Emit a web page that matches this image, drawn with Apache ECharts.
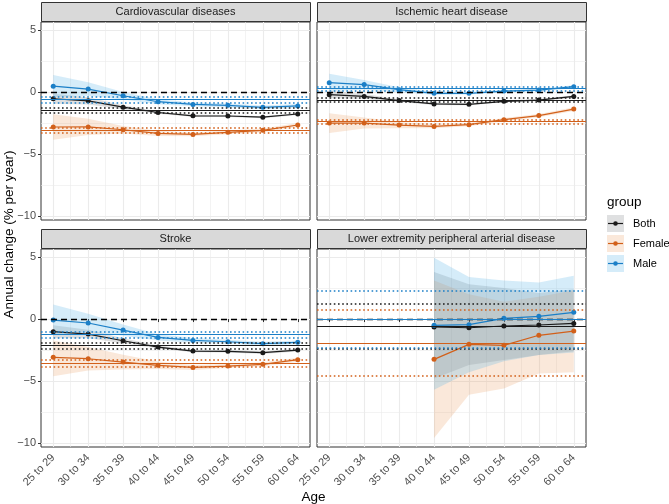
<!DOCTYPE html>
<html>
<head>
<meta charset="utf-8">
<script src="https://cdn.jsdelivr.net/npm/echarts@6/dist/echarts.min.js"></script>
<style>html,body{margin:0;padding:0;background:#fff}#c{width:669px;height:504px}</style>
</head>
<body>
<div id="c"></div>
<script>
// ---------- data ----------
const ages = ['25 to 29','30 to 34','35 to 39','40 to 44','45 to 49','50 to 54','55 to 59','60 to 64'];
const panelTitles = ['Cardiovascular diseases','Ischemic heart disease','Stroke','Lower extremity peripheral arterial disease'];
const groups = ['Both','Female','Male'];
const yTicks = [-10,-5,0,5];
const yMinorTicks = [-7.5,-2.5,2.5];

// Cardiovascular diseases
const cvdBoth     = [-0.54,-0.71,-1.22,-1.65,-1.92,-1.93,-2.03,-1.77];
const cvdBothLo   = [-0.95,-1.00,-1.38,-1.76,-2.00,-2.01,-2.11,-1.86];
const cvdBothHi   = [-0.14,-0.42,-1.06,-1.54,-1.84,-1.85,-1.95,-1.68];
const cvdFemale   = [-2.82,-2.81,-3.04,-3.34,-3.42,-3.25,-3.09,-2.66];
const cvdFemaleLo = [-3.85,-3.47,-3.35,-3.55,-3.57,-3.40,-3.24,-2.82];
const cvdFemaleHi = [-1.80,-2.15,-2.73,-3.13,-3.27,-3.10,-2.94,-2.50];
const cvdMale     = [0.47,0.24,-0.30,-0.78,-1.00,-1.07,-1.23,-1.12];
const cvdMaleLo   = [-0.40,-0.30,-0.60,-0.98,-1.15,-1.22,-1.38,-1.28];
const cvdMaleHi   = [1.37,0.80,0.00,-0.58,-0.85,-0.92,-1.08,-0.96];
// overall annual change [estimate, lower, upper]
const cvdAllBoth = [-1.50,-1.69,-1.29];
const cvdAllFemale = [-3.09,-3.29,-2.87];
const cvdAllMale = [-0.62,-0.85,-0.39];

// Ischemic heart disease
const ihdBoth     = [-0.21,-0.35,-0.69,-0.96,-0.99,-0.75,-0.65,-0.35];
const ihdBothLo   = [-0.50,-0.55,-0.80,-1.05,-1.07,-0.83,-0.73,-0.45];
const ihdBothHi   = [0.08,-0.15,-0.58,-0.87,-0.91,-0.67,-0.57,-0.25];
const ihdFemale   = [-2.50,-2.50,-2.66,-2.77,-2.63,-2.23,-1.90,-1.37];
const ihdFemaleLo = [-3.30,-2.95,-2.91,-2.92,-2.76,-2.36,-2.03,-1.52];
const ihdFemaleHi = [-1.70,-2.05,-2.41,-2.62,-2.50,-2.10,-1.77,-1.22];
const ihdMale     = [0.76,0.60,0.19,-0.10,-0.10,0.08,0.16,0.43];
const ihdMaleLo   = [0.06,0.20,-0.01,-0.22,-0.20,-0.02,0.06,0.31];
const ihdMaleHi   = [1.48,0.98,0.39,0.02,0.00,0.18,0.26,0.55];
const ihdAllBoth = [-0.64,-0.80,-0.48];
const ihdAllFemale = [-2.37,-2.53,-2.23];
const ihdAllMale = [0.27,0.14,0.42];

// Stroke
const strBoth     = [-1.02,-1.21,-1.75,-2.26,-2.58,-2.60,-2.71,-2.50];
const strBothLo   = [-1.55,-1.55,-1.95,-2.38,-2.68,-2.70,-2.81,-2.61];
const strBothHi   = [-0.50,-0.87,-1.55,-2.14,-2.48,-2.50,-2.61,-2.39];
const strFemale   = [-3.09,-3.20,-3.47,-3.73,-3.90,-3.79,-3.65,-3.28];
const strFemaleLo = [-4.62,-4.15,-4.07,-4.03,-4.10,-3.95,-3.81,-3.44];
const strFemaleHi = [-1.72,-2.25,-2.87,-3.43,-3.70,-3.63,-3.49,-3.12];
const strMale     = [-0.08,-0.32,-0.89,-1.48,-1.72,-1.83,-1.99,-1.88];
const strMaleLo   = [-1.30,-1.07,-1.34,-1.73,-1.92,-1.99,-2.14,-2.04];
const strMaleHi   = [1.18,0.43,-0.44,-1.23,-1.52,-1.67,-1.84,-1.72];
const strAllBoth = [-2.12,-2.36,-1.91];
const strAllFemale = [-3.55,-3.81,-3.30];
const strAllMale = [-1.26,-1.48,-1.05];

// Lower extremity peripheral arterial disease
const padBoth     = [null,null,null,-0.64,-0.70,-0.56,-0.48,-0.35];
const padBothLo   = [null,null,null,-4.80,-3.70,-3.30,-2.90,-2.60];
const padBothHi   = [null,null,null,3.80,2.80,2.50,2.10,2.40];
const padFemale   = [null,null,null,-3.25,-2.04,-2.12,-1.31,-0.97];
const padFemaleLo = [null,null,null,-9.60,-6.10,-5.60,-4.40,-4.30];
const padFemaleHi = [null,null,null,3.10,2.00,1.40,1.80,2.30];
const padMale     = [null,null,null,-0.51,-0.45,0.06,0.22,0.54];
const padMaleLo   = [null,null,null,-5.70,-4.30,-3.40,-2.90,-2.70];
const padMaleHi   = [null,null,null,4.95,3.40,3.10,2.95,3.50];
const padAllBoth = [-0.59,-2.39,1.21];
const padAllFemale = [-1.96,-4.54,0.73];
const padAllMale = [-0.05,-2.35,2.29];

// ---------- build ----------
const panels = [
  {mean:[cvdBoth,cvdFemale,cvdMale], lo:[cvdBothLo,cvdFemaleLo,cvdMaleLo], hi:[cvdBothHi,cvdFemaleHi,cvdMaleHi], all:[cvdAllBoth,cvdAllFemale,cvdAllMale]},
  {mean:[ihdBoth,ihdFemale,ihdMale], lo:[ihdBothLo,ihdFemaleLo,ihdMaleLo], hi:[ihdBothHi,ihdFemaleHi,ihdMaleHi], all:[ihdAllBoth,ihdAllFemale,ihdAllMale]},
  {mean:[strBoth,strFemale,strMale], lo:[strBothLo,strFemaleLo,strMaleLo], hi:[strBothHi,strFemaleHi,strMaleHi], all:[strAllBoth,strAllFemale,strAllMale]},
  {mean:[padBoth,padFemale,padMale], lo:[padBothLo,padFemaleLo,padMaleLo], hi:[padBothHi,padFemaleHi,padMaleHi], all:[padAllBoth,padAllFemale,padAllMale]}
];

const lineColors = ['#1a1a1a','#D2601A','#1B7FC7'];
const ribbonColors = ['rgba(55,65,70,0.16)','rgba(232,140,70,0.2)','rgba(86,180,233,0.25)'];
const FONT = 'Liberation Sans, Arial, sans-serif';

const gridPos = [
  {left:41, top:22, width:269, height:198},
  {left:317, top:22, width:269, height:198},
  {left:41, top:249, width:269, height:198},
  {left:317, top:249, width:269, height:198}
];
const X_MIN = 0.65, X_MAX = 8.35, Y_MIN = -10.32, Y_MAX = 5.65;
const xMajor = ages.map((a,i)=>i+1);
const xMinor = ages.slice(1).map((a,i)=>i+1.5);

const grids = [], xAxes = [], yAxes = [], series = [], graphics = [];

panels.forEach((p, k) => {
  const bottom = k >= 2, left = k % 2 === 0;
  grids.push(Object.assign({show:true, borderColor:'#333333', borderWidth:1, backgroundColor:'#ffffff', containLabel:false}, gridPos[k]));
  xAxes.push({type:'value', gridIndex:k, min:X_MIN, max:X_MAX,
    axisLine:{show:false},
    axisTick:{show:bottom, customValues:xMajor, length:3, lineStyle:{color:'#333333', width:1}},
    axisLabel:{show:bottom, customValues:xMajor, rotate:45, margin:9, fontSize:11, color:'#4D4D4D', fontFamily:FONT,
      formatter:v=>ages[Math.round(v)-1]},
    splitLine:{show:true, lineStyle:{color:'#EBEBEB', width:1.1}}
  });
  xAxes.push({type:'value', gridIndex:k, min:X_MIN, max:X_MAX, show:true,
    axisLine:{show:false}, axisTick:{show:false, customValues:xMinor}, axisLabel:{show:false, customValues:xMinor},
    splitLine:{show:true, lineStyle:{color:'#EBEBEB', width:0.6}}
  });
  yAxes.push({type:'value', gridIndex:k, min:Y_MIN, max:Y_MAX,
    axisLine:{show:false},
    axisTick:{show:left, customValues:yTicks, length:3, lineStyle:{color:'#333333', width:1}},
    axisLabel:{show:left, customValues:yTicks, margin:5, fontSize:11, color:'#4D4D4D', fontFamily:FONT,
      formatter:v=>String(v).replace('-','\u2212')},
    splitLine:{show:true, lineStyle:{color:'#EBEBEB', width:1.1}}
  });
  yAxes.push({type:'value', gridIndex:k, min:Y_MIN, max:Y_MAX, show:true,
    axisLine:{show:false}, axisTick:{show:false, customValues:yMinorTicks}, axisLabel:{show:false, customValues:yMinorTicks},
    splitLine:{show:true, lineStyle:{color:'#EBEBEB', width:0.6}}
  });

  // ribbons
  groups.forEach((g, gi) => {
    const lo = p.lo[gi], hi = p.hi[gi];
    series.push({type:'custom', name:g, xAxisIndex:2*k, yAxisIndex:2*k, z:2, silent:true,
      data:[[1,0]],
      renderItem:(params, api) => {
        const pts = [];
        for (let i=0;i<lo.length;i++) if (lo[i]!=null) pts.push(api.coord([i+1, hi[i]]));
        for (let i=lo.length-1;i>=0;i--) if (lo[i]!=null) pts.push(api.coord([i+1, lo[i]]));
        return {type:'polygon', shape:{points:pts}, style:{fill:ribbonColors[gi]}};
      }
    });
  });
  // zero dashed line
  series.push({type:'line', xAxisIndex:2*k, yAxisIndex:2*k, data:[], z:3, silent:true,
    markLine:{silent:true, symbol:'none', label:{show:false}, animation:false,
      data:[{yAxis:0, lineStyle:{color:'#000000', width:1.3, type:[6,4]}}]}
  });
  // group lines + overall hlines
  groups.forEach((g, gi) => {
    const m = p.mean[gi], a = p.all[gi];
    series.push({type:'line', name:g, xAxisIndex:2*k, yAxisIndex:2*k, z:4,
      data:m.map((v,i)=>v==null?null:[i+1, v]).filter(d=>d),
      symbol:'circle', symbolSize:5, showSymbol:true,
      lineStyle:{color:lineColors[gi], width:1.2}, itemStyle:{color:lineColors[gi]},
      markLine:{silent:true, symbol:'none', label:{show:false}, animation:false,
        data:[
          {yAxis:a[0], lineStyle:{color:lineColors[gi], width:1.2, type:'solid'}},
          {yAxis:a[1], lineStyle:{color:lineColors[gi], width:1.7, type:[1.6,2.6]}},
          {yAxis:a[2], lineStyle:{color:lineColors[gi], width:1.7, type:[1.6,2.6]}}
        ]}
    });
  });

  // strip
  const gp = gridPos[k];
  graphics.push({type:'rect', shape:{x:gp.left+0.5, y:gp.top-20+0.5, width:gp.width, height:19},
    style:{fill:'#D9D9D9', stroke:'#333333', lineWidth:1}, z:10});
  graphics.push({type:'text', x:gp.left+gp.width/2, y:gp.top-10.5,
    style:{text:panelTitles[k], fill:'#1A1A1A', fontSize:11, fontFamily:FONT, align:'center', verticalAlign:'middle'}, z:11});
});

// axis titles
graphics.push({type:'text', x:313.5, y:497, style:{text:'Age', fill:'#000', fontSize:13.5, fontFamily:FONT, align:'center', verticalAlign:'middle'}});
graphics.push({type:'text', x:9, y:234.5, rotation:Math.PI/2, style:{text:'Annual change (% per year)', fill:'#000', fontSize:13.5, fontFamily:FONT, align:'center', verticalAlign:'middle'}});

// legend
graphics.push({type:'text', x:607, y:202, style:{text:'group', fill:'#000', fontSize:13.5, fontFamily:FONT, align:'left', verticalAlign:'middle'}});
groups.forEach((g, gi) => {
  const cy = 223.5 + gi*20;
  graphics.push({type:'rect', shape:{x:607, y:cy-8.5, width:17, height:17}, style:{fill:ribbonColors[gi]}});
  graphics.push({type:'line', shape:{x1:608, y1:cy, x2:623, y2:cy}, style:{stroke:lineColors[gi], lineWidth:1.2}});
  graphics.push({type:'circle', shape:{cx:615.5, cy:cy, r:2.3}, style:{fill:lineColors[gi]}});
  graphics.push({type:'text', x:633, y:cy, style:{text:g, fill:'#000', fontSize:11, fontFamily:FONT, align:'left', verticalAlign:'middle'}});
});

const chart = echarts.init(document.getElementById('c'), null, {renderer:'canvas'});
chart.setOption({
  animation:false,
  backgroundColor:'#ffffff',
  grid:grids, xAxis:xAxes, yAxis:yAxes, series:series, graphic:graphics
});
</script>
</body>
</html>
